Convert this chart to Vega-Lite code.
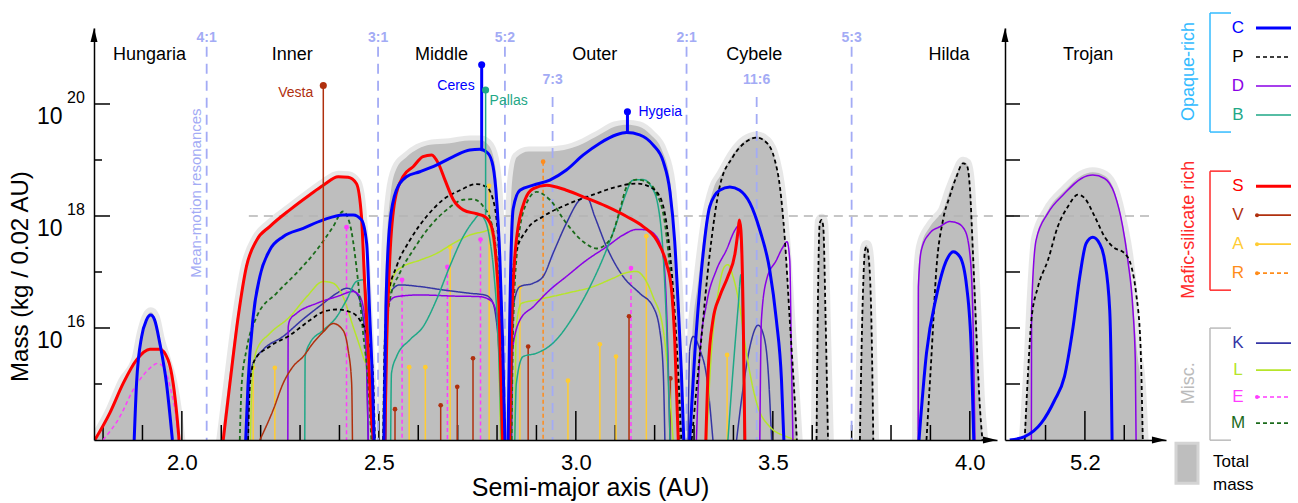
{
"$schema":"https://vega.github.io/schema/vega-lite/v6.json",
"padding":{"left":8,"top":12,"right":4,"bottom":4},
"config":{"font":"Liberation Sans","view":{"stroke":null},"axis":{"grid":false,"domainColor":"#000","tickColor":"#000","labelColor":"#000","titleColor":"#000"}},
"spacing":3,
"resolve":{"scale":{"x":"independent","y":"independent"}},
"datasets":{
"total":[
{"seg":"T1","a":1.777,"m":14},{"seg":"T1","a":1.817,"m":14.5},{"seg":"T1","a":1.851,"m":15.05},{"seg":"T1","a":1.885,"m":15.45},{"seg":"T1","a":1.898,"m":15.9},{"seg":"T1","a":1.91,"m":16.18},{"seg":"T1","a":1.921,"m":16.28},{"seg":"T1","a":1.931,"m":16.2},{"seg":"T1","a":1.944,"m":15.8},{"seg":"T1","a":1.961,"m":15.4},{"seg":"T1","a":1.975,"m":15.05},{"seg":"T1","a":1.988,"m":14.5},{"seg":"T1","a":1.996,"m":14},
{"seg":"T2","a":2.1,"m":14},{"seg":"T2","a":2.118,"m":15},{"seg":"T2","a":2.14,"m":16.2},{"seg":"T2","a":2.162,"m":17.1},{"seg":"T2","a":2.19,"m":17.6},{"seg":"T2","a":2.223,"m":17.85},{"seg":"T2","a":2.274,"m":18.13},{"seg":"T2","a":2.325,"m":18.4},{"seg":"T2","a":2.359,"m":18.57},{"seg":"T2","a":2.397,"m":18.72},{"seg":"T2","a":2.422,"m":18.71},{"seg":"T2","a":2.443,"m":18.6},{"seg":"T2","a":2.456,"m":18.1},{"seg":"T2","a":2.466,"m":17},{"seg":"T2","a":2.476,"m":15.6},{"seg":"T2","a":2.486,"m":14.5},{"seg":"T2","a":2.492,"m":14},
{"seg":"T3","a":2.508,"m":14},{"seg":"T3","a":2.513,"m":16},{"seg":"T3","a":2.52,"m":17.5},{"seg":"T3","a":2.53,"m":18.4},{"seg":"T3","a":2.545,"m":18.85},{"seg":"T3","a":2.57,"m":19.05},{"seg":"T3","a":2.6,"m":19.2},{"seg":"T3","a":2.63,"m":19.27},{"seg":"T3","a":2.68,"m":19.3},{"seg":"T3","a":2.73,"m":19.35},{"seg":"T3","a":2.76,"m":19.35},{"seg":"T3","a":2.78,"m":19.25},{"seg":"T3","a":2.795,"m":18.9},{"seg":"T3","a":2.805,"m":18},{"seg":"T3","a":2.813,"m":16.5},{"seg":"T3","a":2.82,"m":14},
{"seg":"T4","a":2.826,"m":14},{"seg":"T4","a":2.83,"m":16.5},{"seg":"T4","a":2.838,"m":18.6},{"seg":"T4","a":2.85,"m":19.05},{"seg":"T4","a":2.88,"m":19.15},{"seg":"T4","a":2.92,"m":19.15},{"seg":"T4","a":2.97,"m":19.18},{"seg":"T4","a":3.02,"m":19.3},{"seg":"T4","a":3.06,"m":19.45},{"seg":"T4","a":3.1,"m":19.6},{"seg":"T4","a":3.13,"m":19.63},{"seg":"T4","a":3.16,"m":19.6},{"seg":"T4","a":3.19,"m":19.45},{"seg":"T4","a":3.22,"m":19.15},{"seg":"T4","a":3.24,"m":18.6},{"seg":"T4","a":3.252,"m":17.6},{"seg":"T4","a":3.262,"m":16.3},{"seg":"T4","a":3.27,"m":15},{"seg":"T4","a":3.276,"m":14},
{"seg":"T5","a":3.287,"m":14},{"seg":"T5","a":3.295,"m":15.8},{"seg":"T5","a":3.31,"m":16.8},{"seg":"T5","a":3.33,"m":17.9},{"seg":"T5","a":3.35,"m":18.5},{"seg":"T5","a":3.37,"m":18.75},{"seg":"T5","a":3.4,"m":19.12},{"seg":"T5","a":3.43,"m":19.35},{"seg":"T5","a":3.46,"m":19.42},{"seg":"T5","a":3.485,"m":19.33},{"seg":"T5","a":3.505,"m":19.02},{"seg":"T5","a":3.518,"m":18.55},{"seg":"T5","a":3.53,"m":17.7},{"seg":"T5","a":3.543,"m":16.3},{"seg":"T5","a":3.556,"m":14.8},{"seg":"T5","a":3.563,"m":14},
{"seg":"T6","a":3.609,"m":14},{"seg":"T6","a":3.615,"m":16.8},{"seg":"T6","a":3.619,"m":17.9},{"seg":"T6","a":3.624,"m":17.95},{"seg":"T6","a":3.628,"m":17.85},{"seg":"T6","a":3.634,"m":16.2},{"seg":"T6","a":3.642,"m":14},
{"seg":"T7","a":3.719,"m":14},{"seg":"T7","a":3.728,"m":16.5},{"seg":"T7","a":3.734,"m":17.42},{"seg":"T7","a":3.738,"m":17.48},{"seg":"T7","a":3.744,"m":17.25},{"seg":"T7","a":3.751,"m":15.9},{"seg":"T7","a":3.757,"m":14},
{"seg":"T8","a":3.866,"m":14},{"seg":"T8","a":3.868,"m":16.8},{"seg":"T8","a":3.876,"m":17.45},{"seg":"T8","a":3.898,"m":17.8},{"seg":"T8","a":3.915,"m":17.95},{"seg":"T8","a":3.932,"m":18.1},{"seg":"T8","a":3.949,"m":18.45},{"seg":"T8","a":3.966,"m":18.75},{"seg":"T8","a":3.983,"m":18.97},{"seg":"T8","a":3.992,"m":18.94},{"seg":"T8","a":4.0,"m":18.6},{"seg":"T8","a":4.008,"m":17.6},{"seg":"T8","a":4.017,"m":16.2},{"seg":"T8","a":4.025,"m":14.8},{"seg":"T8","a":4.034,"m":14}
],
"curves":[
{"cls":"E","seg":"E1","a":1.8,"m":14},{"cls":"E","seg":"E1","a":1.843,"m":14.42},{"cls":"E","seg":"E1","a":1.876,"m":14.89},{"cls":"E","seg":"E1","a":1.91,"m":15.22},{"cls":"E","seg":"E1","a":1.94,"m":15.37},{"cls":"E","seg":"E1","a":1.957,"m":15.25},{"cls":"E","seg":"E1","a":1.974,"m":14.83},{"cls":"E","seg":"E1","a":1.985,"m":14.42},{"cls":"E","seg":"E1","a":1.991,"m":14},
{"cls":"K","seg":"K1","a":2.168,"m":14},{"cls":"K","seg":"K1","a":2.171,"m":15.01},{"cls":"K","seg":"K1","a":2.181,"m":15.37},{"cls":"K","seg":"K1","a":2.206,"m":15.61},{"cls":"K","seg":"K1","a":2.257,"m":15.85},{"cls":"K","seg":"K1","a":2.308,"m":16.16},{"cls":"K","seg":"K1","a":2.359,"m":16.44},{"cls":"K","seg":"K1","a":2.393,"m":16.62},{"cls":"K","seg":"K1","a":2.418,"m":16.71},{"cls":"K","seg":"K1","a":2.443,"m":16.62},{"cls":"K","seg":"K1","a":2.46,"m":16.2},{"cls":"K","seg":"K1","a":2.469,"m":15.31},{"cls":"K","seg":"K1","a":2.473,"m":14},
{"cls":"K","seg":"K2","a":2.518,"m":14},{"cls":"K","seg":"K2","a":2.52,"m":16.08},{"cls":"K","seg":"K2","a":2.528,"m":16.62},{"cls":"K","seg":"K2","a":2.553,"m":16.77},{"cls":"K","seg":"K2","a":2.604,"m":16.74},{"cls":"K","seg":"K2","a":2.663,"m":16.68},{"cls":"K","seg":"K2","a":2.731,"m":16.62},{"cls":"K","seg":"K2","a":2.769,"m":16.59},{"cls":"K","seg":"K2","a":2.786,"m":16.5},{"cls":"K","seg":"K2","a":2.797,"m":16.2},{"cls":"K","seg":"K2","a":2.807,"m":15.19},{"cls":"K","seg":"K2","a":2.811,"m":14},
{"cls":"K","seg":"K3","a":2.837,"m":14},{"cls":"K","seg":"K3","a":2.841,"m":16.38},{"cls":"K","seg":"K3","a":2.858,"m":16.74},{"cls":"K","seg":"K3","a":2.892,"m":16.8},{"cls":"K","seg":"K3","a":2.917,"m":16.92},{"cls":"K","seg":"K3","a":2.942,"m":17.33},{"cls":"K","seg":"K3","a":2.976,"m":17.87},{"cls":"K","seg":"K3","a":3.01,"m":18.29},{"cls":"K","seg":"K3","a":3.027,"m":18.35},{"cls":"K","seg":"K3","a":3.048,"m":17.99},{"cls":"K","seg":"K3","a":3.078,"m":17.45},{"cls":"K","seg":"K3","a":3.12,"m":16.92},{"cls":"K","seg":"K3","a":3.162,"m":16.62},{"cls":"K","seg":"K3","a":3.196,"m":16.38},{"cls":"K","seg":"K3","a":3.213,"m":15.96},{"cls":"K","seg":"K3","a":3.222,"m":15.19},{"cls":"K","seg":"K3","a":3.226,"m":14},
{"cls":"K","seg":"K4","a":3.285,"m":14},{"cls":"K","seg":"K4","a":3.289,"m":15.61},{"cls":"K","seg":"K4","a":3.298,"m":15.85},{"cls":"K","seg":"K4","a":3.315,"m":15.61},{"cls":"K","seg":"K4","a":3.332,"m":15.13},{"cls":"K","seg":"K4","a":3.348,"m":14},
{"cls":"K","seg":"K5","a":3.408,"m":14},{"cls":"K","seg":"K5","a":3.425,"m":14.95},{"cls":"K","seg":"K5","a":3.442,"m":15.67},{"cls":"K","seg":"K5","a":3.463,"m":16.05},{"cls":"K","seg":"K5","a":3.475,"m":15.91},{"cls":"K","seg":"K5","a":3.488,"m":15.25},{"cls":"K","seg":"K5","a":3.497,"m":14},
{"cls":"L","seg":"L1","a":2.174,"m":14},{"cls":"L","seg":"L1","a":2.178,"m":15.02},{"cls":"L","seg":"L1","a":2.19,"m":15.61},{"cls":"L","seg":"L1","a":2.223,"m":15.9},{"cls":"L","seg":"L1","a":2.274,"m":16.2},{"cls":"L","seg":"L1","a":2.317,"m":16.56},{"cls":"L","seg":"L1","a":2.359,"m":16.83},{"cls":"L","seg":"L1","a":2.384,"m":16.8},{"cls":"L","seg":"L1","a":2.409,"m":16.56},{"cls":"L","seg":"L1","a":2.435,"m":16.02},{"cls":"L","seg":"L1","a":2.46,"m":15.49},{"cls":"L","seg":"L1","a":2.481,"m":15.01},{"cls":"L","seg":"L1","a":2.49,"m":14},
{"cls":"L","seg":"L2","a":2.515,"m":14},{"cls":"L","seg":"L2","a":2.518,"m":15.75},{"cls":"L","seg":"L2","a":2.524,"m":16.44},{"cls":"L","seg":"L2","a":2.541,"m":16.98},{"cls":"L","seg":"L2","a":2.562,"m":17.1},{"cls":"L","seg":"L2","a":2.604,"m":17.21},{"cls":"L","seg":"L2","a":2.646,"m":17.33},{"cls":"L","seg":"L2","a":2.689,"m":17.51},{"cls":"L","seg":"L2","a":2.731,"m":17.66},{"cls":"L","seg":"L2","a":2.765,"m":17.72},{"cls":"L","seg":"L2","a":2.782,"m":17.75},{"cls":"L","seg":"L2","a":2.792,"m":17.45},{"cls":"L","seg":"L2","a":2.8,"m":16.68},{"cls":"L","seg":"L2","a":2.809,"m":14},
{"cls":"L","seg":"L3","a":2.845,"m":14},{"cls":"L","seg":"L3","a":2.849,"m":16.05},{"cls":"L","seg":"L3","a":2.862,"m":16.44},{"cls":"L","seg":"L3","a":2.9,"m":16.5},{"cls":"L","seg":"L3","a":2.976,"m":16.62},{"cls":"L","seg":"L3","a":3.044,"m":16.74},{"cls":"L","seg":"L3","a":3.095,"m":16.89},{"cls":"L","seg":"L3","a":3.129,"m":16.99},{"cls":"L","seg":"L3","a":3.154,"m":17.01},{"cls":"L","seg":"L3","a":3.171,"m":16.92},{"cls":"L","seg":"L3","a":3.196,"m":16.56},{"cls":"L","seg":"L3","a":3.222,"m":15.96},{"cls":"L","seg":"L3","a":3.234,"m":15.19},{"cls":"L","seg":"L3","a":3.247,"m":14},
{"cls":"L","seg":"L4","a":3.332,"m":14},{"cls":"L","seg":"L4","a":3.344,"m":15.55},{"cls":"L","seg":"L4","a":3.361,"m":16.62},{"cls":"L","seg":"L4","a":3.378,"m":17.1},{"cls":"L","seg":"L4","a":3.386,"m":17.13},{"cls":"L","seg":"L4","a":3.399,"m":16.92},{"cls":"L","seg":"L4","a":3.416,"m":16.38},{"cls":"L","seg":"L4","a":3.433,"m":15.55},{"cls":"L","seg":"L4","a":3.459,"m":14.66},{"cls":"L","seg":"L4","a":3.492,"m":14.24},{"cls":"L","seg":"L4","a":3.535,"m":14.06},{"cls":"L","seg":"L4","a":3.56,"m":14},
{"cls":"D","seg":"D1","a":2.269,"m":14},{"cls":"D","seg":"D1","a":2.27,"m":16.02},{"cls":"D","seg":"D1","a":2.274,"m":16.14},{"cls":"D","seg":"D1","a":2.291,"m":16.26},{"cls":"D","seg":"D1","a":2.342,"m":16.44},{"cls":"D","seg":"D1","a":2.393,"m":16.56},{"cls":"D","seg":"D1","a":2.435,"m":16.65},{"cls":"D","seg":"D1","a":2.452,"m":16.56},{"cls":"D","seg":"D1","a":2.464,"m":16.2},{"cls":"D","seg":"D1","a":2.473,"m":14},
{"cls":"D","seg":"D2","a":2.515,"m":14},{"cls":"D","seg":"D2","a":2.518,"m":16.08},{"cls":"D","seg":"D2","a":2.524,"m":16.44},{"cls":"D","seg":"D2","a":2.545,"m":16.56},{"cls":"D","seg":"D2","a":2.604,"m":16.59},{"cls":"D","seg":"D2","a":2.689,"m":16.57},{"cls":"D","seg":"D2","a":2.756,"m":16.56},{"cls":"D","seg":"D2","a":2.782,"m":16.5},{"cls":"D","seg":"D2","a":2.794,"m":16.38},{"cls":"D","seg":"D2","a":2.805,"m":15.96},{"cls":"D","seg":"D2","a":2.812,"m":14},
{"cls":"D","seg":"D3","a":2.832,"m":14},{"cls":"D","seg":"D3","a":2.837,"m":15.49},{"cls":"D","seg":"D3","a":2.858,"m":16.14},{"cls":"D","seg":"D3","a":2.892,"m":16.38},{"cls":"D","seg":"D3","a":2.934,"m":16.68},{"cls":"D","seg":"D3","a":2.976,"m":16.92},{"cls":"D","seg":"D3","a":3.027,"m":17.21},{"cls":"D","seg":"D3","a":3.078,"m":17.45},{"cls":"D","seg":"D3","a":3.12,"m":17.66},{"cls":"D","seg":"D3","a":3.154,"m":17.76},{"cls":"D","seg":"D3","a":3.18,"m":17.75},{"cls":"D","seg":"D3","a":3.205,"m":17.63},{"cls":"D","seg":"D3","a":3.222,"m":17.27},{"cls":"D","seg":"D3","a":3.23,"m":16.38},{"cls":"D","seg":"D3","a":3.239,"m":14},
{"cls":"D","seg":"D4","a":3.306,"m":14},{"cls":"D","seg":"D4","a":3.315,"m":15.55},{"cls":"D","seg":"D4","a":3.332,"m":16.44},{"cls":"D","seg":"D4","a":3.357,"m":17.04},{"cls":"D","seg":"D4","a":3.382,"m":17.39},{"cls":"D","seg":"D4","a":3.404,"m":17.75},{"cls":"D","seg":"D4","a":3.412,"m":17.82},{"cls":"D","seg":"D4","a":3.421,"m":17.33},{"cls":"D","seg":"D4","a":3.426,"m":15.55},{"cls":"D","seg":"D4","a":3.429,"m":14},
{"cls":"D","seg":"D5","a":3.467,"m":14},{"cls":"D","seg":"D5","a":3.471,"m":16.14},{"cls":"D","seg":"D5","a":3.484,"m":16.86},{"cls":"D","seg":"D5","a":3.509,"m":17.21},{"cls":"D","seg":"D5","a":3.526,"m":17.45},{"cls":"D","seg":"D5","a":3.536,"m":17.54},{"cls":"D","seg":"D5","a":3.543,"m":17.21},{"cls":"D","seg":"D5","a":3.547,"m":15.55},{"cls":"D","seg":"D5","a":3.551,"m":14},
{"cls":"D","seg":"D6","a":3.869,"m":14},{"cls":"D","seg":"D6","a":3.8695,"m":16.74},{"cls":"D","seg":"D6","a":3.877,"m":17.39},{"cls":"D","seg":"D6","a":3.898,"m":17.69},{"cls":"D","seg":"D6","a":3.924,"m":17.81},{"cls":"D","seg":"D6","a":3.949,"m":17.9},{"cls":"D","seg":"D6","a":3.966,"m":17.88},{"cls":"D","seg":"D6","a":3.987,"m":17.75},{"cls":"D","seg":"D6","a":4.0,"m":17.33},{"cls":"D","seg":"D6","a":4.008,"m":16.14},{"cls":"D","seg":"D6","a":4.013,"m":14},
{"cls":"B","seg":"B1","a":2.312,"m":14},{"cls":"B","seg":"B1","a":2.313,"m":15.49},{"cls":"B","seg":"B1","a":2.325,"m":15.73},{"cls":"B","seg":"B1","a":2.359,"m":15.96},{"cls":"B","seg":"B1","a":2.393,"m":16.2},{"cls":"B","seg":"B1","a":2.418,"m":16.5},{"cls":"B","seg":"B1","a":2.443,"m":16.83},{"cls":"B","seg":"B1","a":2.46,"m":16.86},{"cls":"B","seg":"B1","a":2.469,"m":16.5},{"cls":"B","seg":"B1","a":2.477,"m":15.01},{"cls":"B","seg":"B1","a":2.484,"m":14},
{"cls":"B","seg":"B2","a":2.53,"m":14},{"cls":"B","seg":"B2","a":2.532,"m":15.19},{"cls":"B","seg":"B2","a":2.545,"m":15.49},{"cls":"B","seg":"B2","a":2.579,"m":15.79},{"cls":"B","seg":"B2","a":2.612,"m":16.02},{"cls":"B","seg":"B2","a":2.646,"m":16.5},{"cls":"B","seg":"B2","a":2.68,"m":17.1},{"cls":"B","seg":"B2","a":2.714,"m":17.63},{"cls":"B","seg":"B2","a":2.739,"m":17.9},{"cls":"B","seg":"B2","a":2.756,"m":18.02},{"cls":"B","seg":"B2","a":2.769,"m":17.93},{"cls":"B","seg":"B2","a":2.782,"m":17.57},{"cls":"B","seg":"B2","a":2.792,"m":16.98},{"cls":"B","seg":"B2","a":2.803,"m":15.79},{"cls":"B","seg":"B2","a":2.811,"m":14},
{"cls":"B","seg":"B3","a":2.845,"m":14},{"cls":"B","seg":"B3","a":2.849,"m":15.01},{"cls":"B","seg":"B3","a":2.866,"m":15.49},{"cls":"B","seg":"B3","a":2.9,"m":15.55},{"cls":"B","seg":"B3","a":2.942,"m":15.73},{"cls":"B","seg":"B3","a":2.993,"m":16.2},{"cls":"B","seg":"B3","a":3.036,"m":16.74},{"cls":"B","seg":"B3","a":3.078,"m":17.4},{"cls":"B","seg":"B3","a":3.103,"m":17.87},{"cls":"B","seg":"B3","a":3.124,"m":18.34},{"cls":"B","seg":"B3","a":3.145,"m":18.64},{"cls":"B","seg":"B3","a":3.171,"m":18.65},{"cls":"B","seg":"B3","a":3.192,"m":18.52},{"cls":"B","seg":"B3","a":3.209,"m":18.17},{"cls":"B","seg":"B3","a":3.222,"m":17.27},{"cls":"B","seg":"B3","a":3.23,"m":16.08},{"cls":"B","seg":"B3","a":3.239,"m":14},
{"cls":"B","seg":"B4","a":3.386,"m":14},{"cls":"B","seg":"B4","a":3.399,"m":15.25},{"cls":"B","seg":"B4","a":3.412,"m":16.38},{"cls":"B","seg":"B4","a":3.419,"m":16.95},{"cls":"B","seg":"B4","a":3.423,"m":16.1},{"cls":"B","seg":"B4","a":3.427,"m":14},
{"cls":"V","seg":"V1","a":2.198,"m":14},{"cls":"V","seg":"V1","a":2.232,"m":14.54},{"cls":"V","seg":"V1","a":2.257,"m":15.01},{"cls":"V","seg":"V1","a":2.282,"m":15.31},{"cls":"V","seg":"V1","a":2.308,"m":15.49},{"cls":"V","seg":"V1","a":2.333,"m":15.73},{"cls":"V","seg":"V1","a":2.359,"m":15.93},{"cls":"V","seg":"V1","a":2.384,"m":16.08},{"cls":"V","seg":"V1","a":2.409,"m":15.96},{"cls":"V","seg":"V1","a":2.422,"m":15.61},{"cls":"V","seg":"V1","a":2.431,"m":15.01},{"cls":"V","seg":"V1","a":2.433,"m":14},
{"cls":"M","seg":"M1","a":2.147,"m":14},{"cls":"M","seg":"M1","a":2.152,"m":15.01},{"cls":"M","seg":"M1","a":2.164,"m":15.61},{"cls":"M","seg":"M1","a":2.19,"m":16.2},{"cls":"M","seg":"M1","a":2.24,"m":16.62},{"cls":"M","seg":"M1","a":2.291,"m":16.98},{"cls":"M","seg":"M1","a":2.342,"m":17.39},{"cls":"M","seg":"M1","a":2.384,"m":17.81},{"cls":"M","seg":"M1","a":2.409,"m":18.08},{"cls":"M","seg":"M1","a":2.426,"m":17.87},{"cls":"M","seg":"M1","a":2.443,"m":17.1},{"cls":"M","seg":"M1","a":2.46,"m":15.91},{"cls":"M","seg":"M1","a":2.473,"m":15.01},{"cls":"M","seg":"M1","a":2.481,"m":14},
{"cls":"M","seg":"M2","a":2.513,"m":14},{"cls":"M","seg":"M2","a":2.518,"m":15.75},{"cls":"M","seg":"M2","a":2.528,"m":16.5},{"cls":"M","seg":"M2","a":2.553,"m":16.98},{"cls":"M","seg":"M2","a":2.587,"m":17.39},{"cls":"M","seg":"M2","a":2.629,"m":17.81},{"cls":"M","seg":"M2","a":2.672,"m":18.11},{"cls":"M","seg":"M2","a":2.714,"m":18.29},{"cls":"M","seg":"M2","a":2.739,"m":18.3},{"cls":"M","seg":"M2","a":2.765,"m":18.17},{"cls":"M","seg":"M2","a":2.786,"m":17.87},{"cls":"M","seg":"M2","a":2.799,"m":17.27},{"cls":"M","seg":"M2","a":2.809,"m":16.08},{"cls":"M","seg":"M2","a":2.816,"m":14},
{"cls":"M","seg":"M3","a":2.837,"m":14},{"cls":"M","seg":"M3","a":2.841,"m":16.05},{"cls":"M","seg":"M3","a":2.854,"m":17.57},{"cls":"M","seg":"M3","a":2.875,"m":18.23},{"cls":"M","seg":"M3","a":2.9,"m":18.43},{"cls":"M","seg":"M3","a":2.934,"m":18.29},{"cls":"M","seg":"M3","a":2.976,"m":17.87},{"cls":"M","seg":"M3","a":3.019,"m":17.54},{"cls":"M","seg":"M3","a":3.053,"m":17.42},{"cls":"M","seg":"M3","a":3.086,"m":17.57},{"cls":"M","seg":"M3","a":3.112,"m":18.11},{"cls":"M","seg":"M3","a":3.129,"m":18.52},{"cls":"M","seg":"M3","a":3.154,"m":18.65},{"cls":"M","seg":"M3","a":3.18,"m":18.61},{"cls":"M","seg":"M3","a":3.205,"m":18.4},{"cls":"M","seg":"M3","a":3.226,"m":17.87},{"cls":"M","seg":"M3","a":3.243,"m":16.68},{"cls":"M","seg":"M3","a":3.256,"m":15.19},{"cls":"M","seg":"M3","a":3.264,"m":14},
{"cls":"P","seg":"P1","a":2.168,"m":14},{"cls":"P","seg":"P1","a":2.173,"m":15.01},{"cls":"P","seg":"P1","a":2.185,"m":15.43},{"cls":"P","seg":"P1","a":2.223,"m":15.67},{"cls":"P","seg":"P1","a":2.274,"m":15.87},{"cls":"P","seg":"P1","a":2.325,"m":16.14},{"cls":"P","seg":"P1","a":2.359,"m":16.29},{"cls":"P","seg":"P1","a":2.393,"m":16.33},{"cls":"P","seg":"P1","a":2.426,"m":16.29},{"cls":"P","seg":"P1","a":2.452,"m":16.14},{"cls":"P","seg":"P1","a":2.473,"m":15.79},{"cls":"P","seg":"P1","a":2.484,"m":15.31},{"cls":"P","seg":"P1","a":2.49,"m":14},
{"cls":"P","seg":"P2","a":2.511,"m":14},{"cls":"P","seg":"P2","a":2.515,"m":15.75},{"cls":"P","seg":"P2","a":2.524,"m":16.58},{"cls":"P","seg":"P2","a":2.545,"m":17.1},{"cls":"P","seg":"P2","a":2.579,"m":17.57},{"cls":"P","seg":"P2","a":2.621,"m":17.99},{"cls":"P","seg":"P2","a":2.663,"m":18.29},{"cls":"P","seg":"P2","a":2.706,"m":18.46},{"cls":"P","seg":"P2","a":2.748,"m":18.57},{"cls":"P","seg":"P2","a":2.773,"m":18.52},{"cls":"P","seg":"P2","a":2.79,"m":18.29},{"cls":"P","seg":"P2","a":2.803,"m":17.57},{"cls":"P","seg":"P2","a":2.811,"m":16.38},{"cls":"P","seg":"P2","a":2.82,"m":14},
{"cls":"P","seg":"P3","a":2.831,"m":14},{"cls":"P","seg":"P3","a":2.834,"m":15.79},{"cls":"P","seg":"P3","a":2.845,"m":17.27},{"cls":"P","seg":"P3","a":2.875,"m":17.75},{"cls":"P","seg":"P3","a":2.917,"m":17.99},{"cls":"P","seg":"P3","a":2.976,"m":18.2},{"cls":"P","seg":"P3","a":3.044,"m":18.38},{"cls":"P","seg":"P3","a":3.103,"m":18.52},{"cls":"P","seg":"P3","a":3.154,"m":18.58},{"cls":"P","seg":"P3","a":3.188,"m":18.52},{"cls":"P","seg":"P3","a":3.213,"m":18.35},{"cls":"P","seg":"P3","a":3.23,"m":17.87},{"cls":"P","seg":"P3","a":3.247,"m":16.68},{"cls":"P","seg":"P3","a":3.26,"m":15.19},{"cls":"P","seg":"P3","a":3.268,"m":14},
{"cls":"P","seg":"P4","a":3.294,"m":14},{"cls":"P","seg":"P4","a":3.315,"m":15.55},{"cls":"P","seg":"P4","a":3.34,"m":17.33},{"cls":"P","seg":"P4","a":3.365,"m":18.52},{"cls":"P","seg":"P4","a":3.399,"m":19.06},{"cls":"P","seg":"P4","a":3.433,"m":19.33},{"cls":"P","seg":"P4","a":3.459,"m":19.4},{"cls":"P","seg":"P4","a":3.484,"m":19.31},{"cls":"P","seg":"P4","a":3.505,"m":19.0},{"cls":"P","seg":"P4","a":3.518,"m":18.52},{"cls":"P","seg":"P4","a":3.53,"m":17.63},{"cls":"P","seg":"P4","a":3.543,"m":16.14},{"cls":"P","seg":"P4","a":3.556,"m":14.66},{"cls":"P","seg":"P4","a":3.561,"m":14},
{"cls":"P","seg":"P5","a":3.611,"m":14},{"cls":"P","seg":"P5","a":3.615,"m":16.74},{"cls":"P","seg":"P5","a":3.619,"m":17.87},{"cls":"P","seg":"P5","a":3.624,"m":17.93},{"cls":"P","seg":"P5","a":3.628,"m":17.81},{"cls":"P","seg":"P5","a":3.634,"m":16.14},{"cls":"P","seg":"P5","a":3.64,"m":14},
{"cls":"P","seg":"P6","a":3.721,"m":14},{"cls":"P","seg":"P6","a":3.728,"m":16.44},{"cls":"P","seg":"P6","a":3.734,"m":17.39},{"cls":"P","seg":"P6","a":3.738,"m":17.45},{"cls":"P","seg":"P6","a":3.744,"m":17.21},{"cls":"P","seg":"P6","a":3.751,"m":15.85},{"cls":"P","seg":"P6","a":3.755,"m":14},
{"cls":"P","seg":"P7","a":3.89,"m":14},{"cls":"P","seg":"P7","a":3.903,"m":15.55},{"cls":"P","seg":"P7","a":3.915,"m":17.04},{"cls":"P","seg":"P7","a":3.932,"m":17.93},{"cls":"P","seg":"P7","a":3.949,"m":18.35},{"cls":"P","seg":"P7","a":3.966,"m":18.7},{"cls":"P","seg":"P7","a":3.983,"m":18.94},{"cls":"P","seg":"P7","a":3.992,"m":18.91},{"cls":"P","seg":"P7","a":4.0,"m":18.52},{"cls":"P","seg":"P7","a":4.008,"m":17.33},{"cls":"P","seg":"P7","a":4.017,"m":15.85},{"cls":"P","seg":"P7","a":4.025,"m":14.66},{"cls":"P","seg":"P7","a":4.032,"m":14},
{"cls":"S","seg":"S1","a":1.779,"m":14},{"cls":"S","seg":"S1","a":1.817,"m":14.48},{"cls":"S","seg":"S1","a":1.851,"m":15.01},{"cls":"S","seg":"S1","a":1.885,"m":15.43},{"cls":"S","seg":"S1","a":1.919,"m":15.62},{"cls":"S","seg":"S1","a":1.944,"m":15.62},{"cls":"S","seg":"S1","a":1.965,"m":15.43},{"cls":"S","seg":"S1","a":1.978,"m":15.01},{"cls":"S","seg":"S1","a":1.988,"m":14.4},{"cls":"S","seg":"S1","a":1.993,"m":14},
{"cls":"S","seg":"S2","a":2.105,"m":14},{"cls":"S","seg":"S2","a":2.122,"m":15.01},{"cls":"S","seg":"S2","a":2.143,"m":16.2},{"cls":"S","seg":"S2","a":2.164,"m":17.1},{"cls":"S","seg":"S2","a":2.19,"m":17.57},{"cls":"S","seg":"S2","a":2.223,"m":17.81},{"cls":"S","seg":"S2","a":2.274,"m":18.11},{"cls":"S","seg":"S2","a":2.325,"m":18.38},{"cls":"S","seg":"S2","a":2.359,"m":18.55},{"cls":"S","seg":"S2","a":2.397,"m":18.7},{"cls":"S","seg":"S2","a":2.422,"m":18.69},{"cls":"S","seg":"S2","a":2.443,"m":18.58},{"cls":"S","seg":"S2","a":2.456,"m":17.98},{"cls":"S","seg":"S2","a":2.464,"m":16.8},{"cls":"S","seg":"S2","a":2.473,"m":15.61},{"cls":"S","seg":"S2","a":2.481,"m":14.42},{"cls":"S","seg":"S2","a":2.486,"m":14},
{"cls":"S","seg":"S3","a":2.515,"m":14},{"cls":"S","seg":"S3","a":2.52,"m":15.75},{"cls":"S","seg":"S3","a":2.528,"m":17.27},{"cls":"S","seg":"S3","a":2.541,"m":18.29},{"cls":"S","seg":"S3","a":2.562,"m":18.71},{"cls":"S","seg":"S3","a":2.587,"m":18.88},{"cls":"S","seg":"S3","a":2.612,"m":19.06},{"cls":"S","seg":"S3","a":2.634,"m":19.09},{"cls":"S","seg":"S3","a":2.651,"m":18.94},{"cls":"S","seg":"S3","a":2.668,"m":18.64},{"cls":"S","seg":"S3","a":2.689,"m":18.29},{"cls":"S","seg":"S3","a":2.714,"m":18.11},{"cls":"S","seg":"S3","a":2.748,"m":18.04},{"cls":"S","seg":"S3","a":2.769,"m":17.99},{"cls":"S","seg":"S3","a":2.786,"m":17.81},{"cls":"S","seg":"S3","a":2.797,"m":17.27},{"cls":"S","seg":"S3","a":2.805,"m":16.38},{"cls":"S","seg":"S3","a":2.814,"m":14},
{"cls":"S","seg":"S4","a":2.832,"m":14},{"cls":"S","seg":"S4","a":2.837,"m":16.05},{"cls":"S","seg":"S4","a":2.849,"m":17.57},{"cls":"S","seg":"S4","a":2.871,"m":18.29},{"cls":"S","seg":"S4","a":2.892,"m":18.49},{"cls":"S","seg":"S4","a":2.926,"m":18.55},{"cls":"S","seg":"S4","a":2.976,"m":18.46},{"cls":"S","seg":"S4","a":3.027,"m":18.32},{"cls":"S","seg":"S4","a":3.078,"m":18.17},{"cls":"S","seg":"S4","a":3.129,"m":17.99},{"cls":"S","seg":"S4","a":3.171,"m":17.81},{"cls":"S","seg":"S4","a":3.205,"m":17.57},{"cls":"S","seg":"S4","a":3.23,"m":17.15},{"cls":"S","seg":"S4","a":3.243,"m":16.68},{"cls":"S","seg":"S4","a":3.251,"m":15.79},{"cls":"S","seg":"S4","a":3.26,"m":14},
{"cls":"S","seg":"S5","a":3.33,"m":14},{"cls":"S","seg":"S5","a":3.336,"m":15.25},{"cls":"S","seg":"S5","a":3.348,"m":16.14},{"cls":"S","seg":"S5","a":3.365,"m":16.56},{"cls":"S","seg":"S5","a":3.386,"m":16.92},{"cls":"S","seg":"S5","a":3.404,"m":17.33},{"cls":"S","seg":"S5","a":3.412,"m":17.75},{"cls":"S","seg":"S5","a":3.415,"m":17.93},{"cls":"S","seg":"S5","a":3.419,"m":17.75},{"cls":"S","seg":"S5","a":3.425,"m":16.14},{"cls":"S","seg":"S5","a":3.429,"m":14},
{"cls":"C","seg":"C1","a":1.879,"m":14},{"cls":"C","seg":"C1","a":1.885,"m":15.01},{"cls":"C","seg":"C1","a":1.898,"m":15.85},{"cls":"C","seg":"C1","a":1.91,"m":16.14},{"cls":"C","seg":"C1","a":1.921,"m":16.23},{"cls":"C","seg":"C1","a":1.931,"m":16.14},{"cls":"C","seg":"C1","a":1.944,"m":15.73},{"cls":"C","seg":"C1","a":1.961,"m":15.01},{"cls":"C","seg":"C1","a":1.976,"m":14},
{"cls":"C","seg":"C2","a":2.162,"m":14},{"cls":"C","seg":"C2","a":2.168,"m":15.01},{"cls":"C","seg":"C2","a":2.181,"m":16.2},{"cls":"C","seg":"C2","a":2.198,"m":16.92},{"cls":"C","seg":"C2","a":2.223,"m":17.39},{"cls":"C","seg":"C2","a":2.257,"m":17.63},{"cls":"C","seg":"C2","a":2.308,"m":17.78},{"cls":"C","seg":"C2","a":2.359,"m":17.93},{"cls":"C","seg":"C2","a":2.409,"m":18.02},{"cls":"C","seg":"C2","a":2.435,"m":18.02},{"cls":"C","seg":"C2","a":2.456,"m":17.93},{"cls":"C","seg":"C2","a":2.469,"m":17.51},{"cls":"C","seg":"C2","a":2.477,"m":16.2},{"cls":"C","seg":"C2","a":2.484,"m":15.01},{"cls":"C","seg":"C2","a":2.488,"m":14},
{"cls":"C","seg":"C3","a":2.513,"m":14},{"cls":"C","seg":"C3","a":2.518,"m":16.38},{"cls":"C","seg":"C3","a":2.528,"m":17.87},{"cls":"C","seg":"C3","a":2.545,"m":18.47},{"cls":"C","seg":"C3","a":2.57,"m":18.7},{"cls":"C","seg":"C3","a":2.604,"m":18.79},{"cls":"C","seg":"C3","a":2.646,"m":18.91},{"cls":"C","seg":"C3","a":2.689,"m":19.06},{"cls":"C","seg":"C3","a":2.731,"m":19.18},{"cls":"C","seg":"C3","a":2.756,"m":19.19},{"cls":"C","seg":"C3","a":2.777,"m":19.12},{"cls":"C","seg":"C3","a":2.79,"m":18.88},{"cls":"C","seg":"C3","a":2.799,"m":18.29},{"cls":"C","seg":"C3","a":2.807,"m":17.27},{"cls":"C","seg":"C3","a":2.814,"m":15.79},{"cls":"C","seg":"C3","a":2.82,"m":14},
{"cls":"C","seg":"C4","a":2.828,"m":14},{"cls":"C","seg":"C4","a":2.832,"m":16.05},{"cls":"C","seg":"C4","a":2.841,"m":18.13},{"cls":"C","seg":"C4","a":2.858,"m":18.46},{"cls":"C","seg":"C4","a":2.892,"m":18.55},{"cls":"C","seg":"C4","a":2.934,"m":18.64},{"cls":"C","seg":"C4","a":2.976,"m":18.82},{"cls":"C","seg":"C4","a":3.019,"m":19.09},{"cls":"C","seg":"C4","a":3.061,"m":19.3},{"cls":"C","seg":"C4","a":3.103,"m":19.45},{"cls":"C","seg":"C4","a":3.129,"m":19.49},{"cls":"C","seg":"C4","a":3.162,"m":19.45},{"cls":"C","seg":"C4","a":3.196,"m":19.27},{"cls":"C","seg":"C4","a":3.222,"m":18.97},{"cls":"C","seg":"C4","a":3.239,"m":18.43},{"cls":"C","seg":"C4","a":3.251,"m":17.54},{"cls":"C","seg":"C4","a":3.26,"m":16.38},{"cls":"C","seg":"C4","a":3.268,"m":15.19},{"cls":"C","seg":"C4","a":3.274,"m":14},
{"cls":"C","seg":"C5","a":3.289,"m":14},{"cls":"C","seg":"C5","a":3.302,"m":15.55},{"cls":"C","seg":"C5","a":3.319,"m":17.04},{"cls":"C","seg":"C5","a":3.34,"m":18.17},{"cls":"C","seg":"C5","a":3.365,"m":18.46},{"cls":"C","seg":"C5","a":3.391,"m":18.52},{"cls":"C","seg":"C5","a":3.416,"m":18.46},{"cls":"C","seg":"C5","a":3.442,"m":18.23},{"cls":"C","seg":"C5","a":3.467,"m":17.75},{"cls":"C","seg":"C5","a":3.492,"m":17.04},{"cls":"C","seg":"C5","a":3.509,"m":16.14},{"cls":"C","seg":"C5","a":3.522,"m":15.07},{"cls":"C","seg":"C5","a":3.528,"m":14},
{"cls":"C","seg":"C6","a":3.871,"m":14},{"cls":"C","seg":"C6","a":3.89,"m":15.55},{"cls":"C","seg":"C6","a":3.915,"m":16.56},{"cls":"C","seg":"C6","a":3.941,"m":17.21},{"cls":"C","seg":"C6","a":3.958,"m":17.36},{"cls":"C","seg":"C6","a":3.975,"m":17.27},{"cls":"C","seg":"C6","a":3.992,"m":16.74},{"cls":"C","seg":"C6","a":4.004,"m":15.55},{"cls":"C","seg":"C6","a":4.01,"m":14}
],
"trojan":[
{"cls":"D","seg":"TD","a":5.064,"m":14},{"cls":"D","seg":"TD","a":5.0645,"m":16.32},{"cls":"D","seg":"TD","a":5.076,"m":17.57},{"cls":"D","seg":"TD","a":5.106,"m":18.05},{"cls":"D","seg":"TD","a":5.148,"m":18.4},{"cls":"D","seg":"TD","a":5.191,"m":18.67},{"cls":"D","seg":"TD","a":5.22,"m":18.73},{"cls":"D","seg":"TD","a":5.25,"m":18.67},{"cls":"D","seg":"TD","a":5.275,"m":18.4},{"cls":"D","seg":"TD","a":5.296,"m":17.81},{"cls":"D","seg":"TD","a":5.309,"m":17.21},{"cls":"D","seg":"TD","a":5.322,"m":16.32},{"cls":"D","seg":"TD","a":5.328,"m":15.43},{"cls":"D","seg":"TD","a":5.33,"m":14},
{"cls":"P","seg":"TP","a":5.047,"m":14},{"cls":"P","seg":"TP","a":5.055,"m":15.13},{"cls":"P","seg":"TP","a":5.064,"m":16.14},{"cls":"P","seg":"TP","a":5.081,"m":16.74},{"cls":"P","seg":"TP","a":5.106,"m":17.21},{"cls":"P","seg":"TP","a":5.131,"m":17.81},{"cls":"P","seg":"TP","a":5.157,"m":18.17},{"cls":"P","seg":"TP","a":5.182,"m":18.38},{"cls":"P","seg":"TP","a":5.199,"m":18.32},{"cls":"P","seg":"TP","a":5.225,"m":17.99},{"cls":"P","seg":"TP","a":5.25,"m":17.63},{"cls":"P","seg":"TP","a":5.271,"m":17.45},{"cls":"P","seg":"TP","a":5.301,"m":17.33},{"cls":"P","seg":"TP","a":5.318,"m":17.1},{"cls":"P","seg":"TP","a":5.33,"m":16.62},{"cls":"P","seg":"TP","a":5.341,"m":15.73},{"cls":"P","seg":"TP","a":5.347,"m":14},
{"cls":"C","seg":"TC","a":5.009,"m":14},{"cls":"C","seg":"TC","a":5.047,"m":14.06},{"cls":"C","seg":"TC","a":5.089,"m":14.3},{"cls":"C","seg":"TC","a":5.123,"m":14.71},{"cls":"C","seg":"TC","a":5.148,"m":15.13},{"cls":"C","seg":"TC","a":5.17,"m":16.02},{"cls":"C","seg":"TC","a":5.187,"m":16.92},{"cls":"C","seg":"TC","a":5.203,"m":17.51},{"cls":"C","seg":"TC","a":5.22,"m":17.62},{"cls":"C","seg":"TC","a":5.237,"m":17.51},{"cls":"C","seg":"TC","a":5.25,"m":17.21},{"cls":"C","seg":"TC","a":5.263,"m":16.32},{"cls":"C","seg":"TC","a":5.267,"m":15.13},{"cls":"C","seg":"TC","a":5.269,"m":14}
],
"trojanTotal":[
{"seg":"TT","a":5.045,"m":14},{"seg":"TT","a":5.058,"m":15.5},{"seg":"TT","a":5.064,"m":16.4},{"seg":"TT","a":5.076,"m":17.6},{"seg":"TT","a":5.106,"m":18.1},{"seg":"TT","a":5.148,"m":18.45},{"seg":"TT","a":5.191,"m":18.72},{"seg":"TT","a":5.22,"m":18.78},{"seg":"TT","a":5.25,"m":18.72},{"seg":"TT","a":5.275,"m":18.45},{"seg":"TT","a":5.296,"m":17.85},{"seg":"TT","a":5.31,"m":17.3},{"seg":"TT","a":5.322,"m":16.5},{"seg":"TT","a":5.332,"m":15.6},{"seg":"TT","a":5.342,"m":15},{"seg":"TT","a":5.349,"m":14}
],
"stems":[
{"cls":"A","a":2.181,"top":15.29},{"cls":"A","a":2.236,"top":15.29},{"cls":"A","a":2.577,"top":15.3},{"cls":"A","a":2.618,"top":15.3},{"cls":"A","a":2.681,"top":17.44},{"cls":"A","a":2.78,"top":18.54},{"cls":"A","a":2.858,"top":16.73},{"cls":"A","a":2.98,"top":15.06},{"cls":"A","a":3.061,"top":15.71},{"cls":"A","a":3.102,"top":15.49},{"cls":"A","a":3.179,"top":17.64},{"cls":"A","a":3.384,"top":15.52},
{"cls":"V","a":2.541,"top":14.55},{"cls":"V","a":2.657,"top":14.62},{"cls":"V","a":2.699,"top":14.95},{"cls":"V","a":2.739,"top":15.46},{"cls":"V","a":2.879,"top":15.67},{"cls":"V","a":3.135,"top":16.21},{"cls":"V","a":3.24,"top":15.1},
{"cls":"E","a":2.418,"top":17.8},{"cls":"E","a":2.559,"top":16.86},{"cls":"E","a":2.674,"top":17.09},{"cls":"E","a":2.758,"top":17.58},{"cls":"E","a":3.14,"top":17.07},
{"cls":"R","a":2.917,"top":18.97}
],
"named":[
{"name":"Vesta","cls":"V","a":2.359,"base":15.93,"top":20.33},
{"name":"Ceres","cls":"C","a":2.761,"base":19.19,"top":20.7},
{"name":"Pallas","cls":"B","a":2.771,"base":18.02,"top":20.25},
{"name":"Hygeia","cls":"C","a":3.131,"base":19.49,"top":19.86}
],
"res":[
{"label":"4:1","a":2.063,"tier":"upper"},{"label":"3:1","a":2.498,"tier":"upper"},{"label":"5:2","a":2.82,"tier":"upper"},{"label":"7:3","a":2.941,"tier":"lower"},{"label":"2:1","a":3.281,"tier":"upper"},{"label":"11:6","a":3.459,"tier":"lower"},{"label":"5:3","a":3.7,"tier":"upper"}
],
"regions":[
{"name":"Hungaria","a":1.918,"panel":"main"},{"name":"Inner","a":2.28,"panel":"main"},{"name":"Middle","a":2.659,"panel":"main"},{"name":"Outer","a":3.048,"panel":"main"},{"name":"Cybele","a":3.453,"panel":"main"},{"name":"Hilda","a":3.947,"panel":"main"},{"name":"Trojan","a":5.208,"panel":"trojan"}
],
"xticks":[
{"t":1.8,"major":false},{"t":1.9,"major":false},{"t":2,"major":true},{"t":2.1,"major":false},{"t":2.2,"major":false},{"t":2.3,"major":false},{"t":2.4,"major":false},{"t":2.5,"major":true},{"t":2.6,"major":false},{"t":2.7,"major":false},{"t":2.8,"major":false},{"t":2.9,"major":false},{"t":3,"major":true},{"t":3.1,"major":false},{"t":3.2,"major":false},{"t":3.3,"major":false},{"t":3.4,"major":false},{"t":3.5,"major":true},{"t":3.6,"major":false},{"t":3.7,"major":false},{"t":3.8,"major":false},{"t":3.9,"major":false},{"t":4,"major":true}
],
"tticks":[{"t":5.1,"major":false},{"t":5.2,"major":true},{"t":5.3,"major":false}],
"yticks":[{"v":15,"major":false},{"v":16,"major":true},{"v":17,"major":false},{"v":18,"major":true},{"v":19,"major":false},{"v":20,"major":true}],
"legend":[
{"cls":"C","grp":"Opaque-rich","slot":0},{"cls":"P","grp":"Opaque-rich","slot":1},{"cls":"D","grp":"Opaque-rich","slot":2},{"cls":"B","grp":"Opaque-rich","slot":3},
{"cls":"S","grp":"Mafic-silicate rich","slot":5.45},{"cls":"V","grp":"Mafic-silicate rich","slot":6.45},{"cls":"A","grp":"Mafic-silicate rich","slot":7.45},{"cls":"R","grp":"Mafic-silicate rich","slot":8.45},
{"cls":"K","grp":"Misc.","slot":10.86},{"cls":"L","grp":"Misc.","slot":11.79},{"cls":"E","grp":"Misc.","slot":12.72},{"cls":"M","grp":"Misc.","slot":13.62}
]
},
"hconcat":[
{
"width":903,"height":412,
"layer":[
{"data":{"name":"total"},"mark":{"type":"area","interpolate":"monotone","fill":"#d8d8d8","stroke":"#d8d8d8","strokeWidth":10,"opacity":0.6,"clip":true},
"encoding":{
"x":{"field":"a","type":"quantitative","scale":{"domain":[1.777,4.069],"nice":false,"zero":false},
"axis":{"values":[2,2.5,3,3.5,4],"format":".1f","ticks":false,"tickSize":0,"domainWidth":1.5,"labelFontSize":22,"labelPadding":12,"labelFlush":false,"labelOverlap":false,"title":"Semi-major axis (AU)","titleFontSize":25,"titleFontWeight":"normal","titlePadding":2,"titleX":496,"zindex":1}},
"y":{"field":"m","type":"quantitative","scale":{"domain":[14,21.357],"nice":false,"zero":false},
"axis":{"values":[16,18,20],"labelExpr":"'10'","ticks":false,"tickSize":0,"domainWidth":1.5,"labelFontSize":23,"labelPadding":32,"labelOffset":13,"labelFlush":false,"labelOverlap":false,"title":"Mass (kg / 0.02 AU)","titleFontSize":24,"titleFontWeight":"normal","titlePadding":4,"titleY":248,"zindex":1}},
"y2":{"datum":14},"detail":{"field":"seg"}}},
{"data":{"name":"total"},"mark":{"type":"area","interpolate":"monotone","fill":"#bebebe","clip":true},
"encoding":{"x":{"field":"a","type":"quantitative","scale":{"domain":[1.777,4.069],"nice":false,"zero":false}},"y":{"field":"m","type":"quantitative","scale":{"domain":[14,21.357],"nice":false,"zero":false}},"y2":{"datum":14},"detail":{"field":"seg"}}},
{"data":{"values":[{}]},"mark":{"type":"rule","color":"#b4b4b4","strokeDash":[9,6],"strokeWidth":1.5},
"encoding":{"x":{"datum":2.17,"scale":{"domain":[1.777,4.069],"nice":false,"zero":false}},"x2":{"datum":4.069},"y":{"datum":18,"scale":{"domain":[14,21.357],"nice":false,"zero":false}}}},
{"data":{"name":"xticks"},"transform":[{"filter":"datum.major"}],"mark":{"type":"rule","color":"#000","strokeWidth":1.5,"y2Offset":-29},
"encoding":{"x":{"field":"t","type":"quantitative","scale":{"domain":[1.777,4.069],"nice":false,"zero":false}},"y":{"datum":14,"scale":{"domain":[14,21.357],"nice":false,"zero":false}},"y2":{"datum":14}}},
{"data":{"name":"xticks"},"transform":[{"filter":"!datum.major"}],"mark":{"type":"rule","color":"#000","strokeWidth":1.5,"y2Offset":-15},
"encoding":{"x":{"field":"t","type":"quantitative","scale":{"domain":[1.777,4.069],"nice":false,"zero":false}},"y":{"datum":14,"scale":{"domain":[14,21.357],"nice":false,"zero":false}},"y2":{"datum":14}}},
{"data":{"name":"yticks"},"transform":[{"filter":"datum.major"}],"mark":{"type":"rule","color":"#000","strokeWidth":1.5,"x2Offset":16},
"encoding":{"y":{"field":"v","type":"quantitative","scale":{"domain":[14,21.357],"nice":false,"zero":false}},"x":{"datum":1.777,"scale":{"domain":[1.777,4.069],"nice":false,"zero":false}},"x2":{"datum":1.777}}},
{"data":{"name":"yticks"},"transform":[{"filter":"!datum.major"}],"mark":{"type":"rule","color":"#000","strokeWidth":1.5,"x2Offset":8},
"encoding":{"y":{"field":"v","type":"quantitative","scale":{"domain":[14,21.357],"nice":false,"zero":false}},"x":{"datum":1.777,"scale":{"domain":[1.777,4.069],"nice":false,"zero":false}},"x2":{"datum":1.777}}},
{"data":{"name":"res"},"transform":[{"filter":"datum.tier=='upper'"}],"mark":{"type":"rule","color":"#a3abf5","strokeDash":[10,7],"strokeWidth":1.8},
"encoding":{"x":{"field":"a","type":"quantitative","scale":{"domain":[1.777,4.069],"nice":false,"zero":false}},"y":{"datum":21.02,"scale":{"domain":[14,21.357],"nice":false,"zero":false}},"y2":{"datum":14}}},
{"data":{"name":"res"},"transform":[{"filter":"datum.tier=='lower'"}],"mark":{"type":"rule","color":"#a3abf5","strokeDash":[10,7],"strokeWidth":1.8},
"encoding":{"x":{"field":"a","type":"quantitative","scale":{"domain":[1.777,4.069],"nice":false,"zero":false}},"y":{"datum":20.125,"scale":{"domain":[14,21.357],"nice":false,"zero":false}},"y2":{"datum":14}}},
{"data":{"name":"res"},"transform":[{"filter":"datum.tier=='upper'"}],"mark":{"type":"text","color":"#a3abf5","fontSize":14,"fontWeight":"bold"},
"encoding":{"x":{"field":"a","type":"quantitative","scale":{"domain":[1.777,4.069],"nice":false,"zero":false}},"y":{"datum":21.18,"scale":{"domain":[14,21.357],"nice":false,"zero":false}},"text":{"field":"label"}}},
{"data":{"name":"res"},"transform":[{"filter":"datum.tier=='lower'"}],"mark":{"type":"text","color":"#a3abf5","fontSize":14,"fontWeight":"bold"},
"encoding":{"x":{"field":"a","type":"quantitative","scale":{"domain":[1.777,4.069],"nice":false,"zero":false}},"y":{"datum":20.43,"scale":{"domain":[14,21.357],"nice":false,"zero":false}},"text":{"field":"label"}}},
{"data":{"values":[{}]},"mark":{"type":"text","text":"Mean-motion resonances","angle":270,"color":"#a3abf5","fontSize":15},
"encoding":{"x":{"datum":2.036,"scale":{"domain":[1.777,4.069],"nice":false,"zero":false}},"y":{"datum":18.41,"scale":{"domain":[14,21.357],"nice":false,"zero":false}}}},
{"data":{"name":"stems"},"mark":{"type":"rule","strokeWidth":1.5},
"encoding":{"x":{"field":"a","type":"quantitative","scale":{"domain":[1.777,4.069],"nice":false,"zero":false}},"y":{"field":"top","type":"quantitative","scale":{"domain":[14,21.357],"nice":false,"zero":false}},"y2":{"datum":14},
"color":{"field":"cls","type":"nominal","legend":null,"scale":{"domain":["C","P","D","B","S","V","A","R","K","L","E","M"],"range":["#0000ff","#000000","#8a00e6","#1fa887","#ff0000","#b0300e","#ffcc33","#ff8c1a","#3535a5","#b6e52a","#ff3cff","#1b6b1b"]}},
"strokeDash":{"field":"cls","type":"nominal","legend":null,"scale":{"domain":["C","P","D","B","S","V","A","R","K","L","E","M"],"range":[[1,0],[4,3],[1,0],[1,0],[1,0],[1,0],[1,0],[4,3],[1,0],[1,0],[4,3],[4,3]]}}}},
{"data":{"name":"stems"},"mark":{"type":"point","filled":true,"size":22,"opacity":1},
"encoding":{"x":{"field":"a","type":"quantitative","scale":{"domain":[1.777,4.069],"nice":false,"zero":false}},"y":{"field":"top","type":"quantitative","scale":{"domain":[14,21.357],"nice":false,"zero":false}},
"color":{"field":"cls","type":"nominal","legend":null,"scale":{"domain":["C","P","D","B","S","V","A","R","K","L","E","M"],"range":["#0000ff","#000000","#8a00e6","#1fa887","#ff0000","#b0300e","#ffcc33","#ff8c1a","#3535a5","#b6e52a","#ff3cff","#1b6b1b"]}}}},
{"data":{"name":"curves"},"transform":[{"filter":{"field":"cls","oneOf":["K","L","D","B","V","E"]}}],"mark":{"type":"line","interpolate":"monotone","strokeWidth":1.5,"clip":true},
"encoding":{"x":{"field":"a","type":"quantitative","scale":{"domain":[1.777,4.069],"nice":false,"zero":false}},"y":{"field":"m","type":"quantitative","scale":{"domain":[14,21.357],"nice":false,"zero":false}},"detail":{"field":"seg"},
"color":{"field":"cls","type":"nominal","legend":null,"scale":{"domain":["C","P","D","B","S","V","A","R","K","L","E","M"],"range":["#0000ff","#000000","#8a00e6","#1fa887","#ff0000","#b0300e","#ffcc33","#ff8c1a","#3535a5","#b6e52a","#ff3cff","#1b6b1b"]}},
"strokeDash":{"field":"cls","type":"nominal","legend":null,"scale":{"domain":["C","P","D","B","S","V","A","R","K","L","E","M"],"range":[[1,0],[4,3],[1,0],[1,0],[1,0],[1,0],[1,0],[4,3],[1,0],[1,0],[4,3],[4,3]]}}}},
{"data":{"name":"curves"},"transform":[{"filter":{"field":"cls","oneOf":["P","M"]}}],"mark":{"type":"line","interpolate":"monotone","strokeWidth":1.8,"clip":true},
"encoding":{"x":{"field":"a","type":"quantitative","scale":{"domain":[1.777,4.069],"nice":false,"zero":false}},"y":{"field":"m","type":"quantitative","scale":{"domain":[14,21.357],"nice":false,"zero":false}},"detail":{"field":"seg"},
"color":{"field":"cls","type":"nominal","legend":null,"scale":{"domain":["C","P","D","B","S","V","A","R","K","L","E","M"],"range":["#0000ff","#000000","#8a00e6","#1fa887","#ff0000","#b0300e","#ffcc33","#ff8c1a","#3535a5","#b6e52a","#ff3cff","#1b6b1b"]}},
"strokeDash":{"field":"cls","type":"nominal","legend":null,"scale":{"domain":["C","P","D","B","S","V","A","R","K","L","E","M"],"range":[[1,0],[4,3],[1,0],[1,0],[1,0],[1,0],[1,0],[4,3],[1,0],[1,0],[4,3],[4,3]]}}}},
{"data":{"name":"curves"},"transform":[{"filter":{"field":"cls","oneOf":["S","C"]}}],"mark":{"type":"line","interpolate":"monotone","strokeWidth":3,"clip":true},
"encoding":{"x":{"field":"a","type":"quantitative","scale":{"domain":[1.777,4.069],"nice":false,"zero":false}},"y":{"field":"m","type":"quantitative","scale":{"domain":[14,21.357],"nice":false,"zero":false}},"detail":{"field":"seg"},
"color":{"field":"cls","type":"nominal","legend":null,"scale":{"domain":["C","P","D","B","S","V","A","R","K","L","E","M"],"range":["#0000ff","#000000","#8a00e6","#1fa887","#ff0000","#b0300e","#ffcc33","#ff8c1a","#3535a5","#b6e52a","#ff3cff","#1b6b1b"]}}}},
{"data":{"name":"named"},"transform":[{"filter":"datum.cls!='C'"}],"mark":{"type":"rule","strokeWidth":1.5},
"encoding":{"x":{"field":"a","type":"quantitative","scale":{"domain":[1.777,4.069],"nice":false,"zero":false}},"y":{"field":"base","type":"quantitative","scale":{"domain":[14,21.357],"nice":false,"zero":false}},"y2":{"field":"top"},
"color":{"field":"cls","type":"nominal","legend":null,"scale":{"domain":["C","P","D","B","S","V","A","R","K","L","E","M"],"range":["#0000ff","#000000","#8a00e6","#1fa887","#ff0000","#b0300e","#ffcc33","#ff8c1a","#3535a5","#b6e52a","#ff3cff","#1b6b1b"]}}}},
{"data":{"name":"named"},"transform":[{"filter":"datum.cls=='C'"}],"mark":{"type":"rule","strokeWidth":3},
"encoding":{"x":{"field":"a","type":"quantitative","scale":{"domain":[1.777,4.069],"nice":false,"zero":false}},"y":{"field":"base","type":"quantitative","scale":{"domain":[14,21.357],"nice":false,"zero":false}},"y2":{"field":"top"},
"color":{"field":"cls","type":"nominal","legend":null,"scale":{"domain":["C","P","D","B","S","V","A","R","K","L","E","M"],"range":["#0000ff","#000000","#8a00e6","#1fa887","#ff0000","#b0300e","#ffcc33","#ff8c1a","#3535a5","#b6e52a","#ff3cff","#1b6b1b"]}}}},
{"data":{"name":"named"},"mark":{"type":"point","filled":true,"size":50,"opacity":1},
"encoding":{"x":{"field":"a","type":"quantitative","scale":{"domain":[1.777,4.069],"nice":false,"zero":false}},"y":{"field":"top","type":"quantitative","scale":{"domain":[14,21.357],"nice":false,"zero":false}},
"color":{"field":"cls","type":"nominal","legend":null,"scale":{"domain":["C","P","D","B","S","V","A","R","K","L","E","M"],"range":["#0000ff","#000000","#8a00e6","#1fa887","#ff0000","#b0300e","#ffcc33","#ff8c1a","#3535a5","#b6e52a","#ff3cff","#1b6b1b"]}}}},
{"data":{"name":"named"},"transform":[{"filter":"datum.name=='Vesta'"}],"mark":{"type":"text","align":"right","dx":-10,"dy":7,"fontSize":14,"color":"#b0300e"},
"encoding":{"x":{"field":"a","type":"quantitative","scale":{"domain":[1.777,4.069],"nice":false,"zero":false}},"y":{"field":"top","type":"quantitative","scale":{"domain":[14,21.357],"nice":false,"zero":false}},"text":{"field":"name"}}},
{"data":{"name":"named"},"transform":[{"filter":"datum.name=='Ceres'"}],"mark":{"type":"text","align":"right","dx":-7,"dy":21,"fontSize":14,"color":"#0000ff"},
"encoding":{"x":{"field":"a","type":"quantitative","scale":{"domain":[1.777,4.069],"nice":false,"zero":false}},"y":{"field":"top","type":"quantitative","scale":{"domain":[14,21.357],"nice":false,"zero":false}},"text":{"field":"name"}}},
{"data":{"name":"named"},"transform":[{"filter":"datum.name=='Pallas'"}],"mark":{"type":"text","align":"left","dx":4,"dy":11,"fontSize":14,"color":"#1fa887"},
"encoding":{"x":{"field":"a","type":"quantitative","scale":{"domain":[1.777,4.069],"nice":false,"zero":false}},"y":{"field":"top","type":"quantitative","scale":{"domain":[14,21.357],"nice":false,"zero":false}},"text":{"field":"name"}}},
{"data":{"name":"named"},"transform":[{"filter":"datum.name=='Hygeia'"}],"mark":{"type":"text","align":"left","dx":11,"dy":0,"fontSize":14,"color":"#0000ff"},
"encoding":{"x":{"field":"a","type":"quantitative","scale":{"domain":[1.777,4.069],"nice":false,"zero":false}},"y":{"field":"top","type":"quantitative","scale":{"domain":[14,21.357],"nice":false,"zero":false}},"text":{"field":"name"}}},
{"data":{"name":"regions"},"transform":[{"filter":"datum.panel=='main'"}],"mark":{"type":"text","fontSize":18,"color":"#000"},
"encoding":{"x":{"field":"a","type":"quantitative","scale":{"domain":[1.777,4.069],"nice":false,"zero":false}},"y":{"datum":20.875,"scale":{"domain":[14,21.357],"nice":false,"zero":false}},"text":{"field":"name"}}},
{"data":{"values":[{"e":16},{"e":18},{"e":20}]},"mark":{"type":"text","align":"left","dx":-27,"dy":-6,"fontSize":16,"color":"#000"},
"encoding":{"x":{"datum":1.777,"scale":{"domain":[1.777,4.069],"nice":false,"zero":false}},"y":{"field":"e","type":"quantitative","scale":{"domain":[14,21.357],"nice":false,"zero":false}},"text":{"field":"e"}}},
{"data":{"values":[{}]},"mark":{"type":"point","shape":"M-1,-0.5L1,0L-1,0.5Z","filled":true,"color":"#000","size":196,"opacity":1},
"encoding":{"x":{"datum":4.051,"scale":{"domain":[1.777,4.069],"nice":false,"zero":false}},"y":{"datum":14,"scale":{"domain":[14,21.357],"nice":false,"zero":false}}}},
{"data":{"values":[{}]},"mark":{"type":"point","shape":"M-0.5,1L0,-1L0.5,1Z","filled":true,"color":"#000","size":196,"opacity":1},
"encoding":{"x":{"datum":1.777,"scale":{"domain":[1.777,4.069],"nice":false,"zero":false}},"y":{"datum":21.23,"scale":{"domain":[14,21.357],"nice":false,"zero":false}}}}
]
},
{
"width":161,"height":412,
"layer":[
{"data":{"name":"trojanTotal"},"mark":{"type":"area","interpolate":"monotone","fill":"#d8d8d8","stroke":"#d8d8d8","strokeWidth":10,"opacity":0.6,"clip":true},
"encoding":{
"x":{"field":"a","type":"quantitative","scale":{"domain":[4.997,5.406],"nice":false,"zero":false},
"axis":{"values":[5.2],"format":".1f","ticks":false,"tickSize":0,"domainWidth":1.5,"labelFontSize":22,"labelPadding":12,"labelFlush":false,"labelOverlap":false,"title":null,"zindex":1}},
"y":{"field":"m","type":"quantitative","scale":{"domain":[14,21.357],"nice":false,"zero":false},
"axis":{"values":[16],"labels":false,"ticks":false,"tickSize":0,"domainWidth":1.5,"title":null,"zindex":1}},
"y2":{"datum":14},"detail":{"field":"seg"}}},
{"data":{"name":"trojanTotal"},"mark":{"type":"area","interpolate":"monotone","fill":"#bebebe","clip":true},
"encoding":{"x":{"field":"a","type":"quantitative","scale":{"domain":[4.997,5.406],"nice":false,"zero":false}},"y":{"field":"m","type":"quantitative","scale":{"domain":[14,21.357],"nice":false,"zero":false}},"y2":{"datum":14},"detail":{"field":"seg"}}},
{"data":{"values":[{}]},"mark":{"type":"rule","color":"#b4b4b4","strokeDash":[9,6],"strokeWidth":1.5},
"encoding":{"x":{"datum":4.997,"scale":{"domain":[4.997,5.406],"nice":false,"zero":false}},"x2":{"datum":5.365},"y":{"datum":18,"scale":{"domain":[14,21.357],"nice":false,"zero":false}}}},
{"data":{"name":"tticks"},"transform":[{"filter":"datum.major"}],"mark":{"type":"rule","color":"#000","strokeWidth":1.5,"y2Offset":-29},
"encoding":{"x":{"field":"t","type":"quantitative","scale":{"domain":[4.997,5.406],"nice":false,"zero":false}},"y":{"datum":14,"scale":{"domain":[14,21.357],"nice":false,"zero":false}},"y2":{"datum":14}}},
{"data":{"name":"tticks"},"transform":[{"filter":"!datum.major"}],"mark":{"type":"rule","color":"#000","strokeWidth":1.5,"y2Offset":-15},
"encoding":{"x":{"field":"t","type":"quantitative","scale":{"domain":[4.997,5.406],"nice":false,"zero":false}},"y":{"datum":14,"scale":{"domain":[14,21.357],"nice":false,"zero":false}},"y2":{"datum":14}}},
{"data":{"name":"yticks"},"mark":{"type":"rule","color":"#000","strokeWidth":1.5,"x2Offset":15},
"encoding":{"y":{"field":"v","type":"quantitative","scale":{"domain":[14,21.357],"nice":false,"zero":false}},"x":{"datum":4.997,"scale":{"domain":[4.997,5.406],"nice":false,"zero":false}},"x2":{"datum":4.997}}},
{"data":{"name":"trojan"},"transform":[{"filter":"datum.cls=='D'"}],"mark":{"type":"line","interpolate":"monotone","strokeWidth":1.5,"clip":true,"color":"#8a00e6"},
"encoding":{"x":{"field":"a","type":"quantitative","scale":{"domain":[4.997,5.406],"nice":false,"zero":false}},"y":{"field":"m","type":"quantitative","scale":{"domain":[14,21.357],"nice":false,"zero":false}},"detail":{"field":"seg"}}},
{"data":{"name":"trojan"},"transform":[{"filter":"datum.cls=='P'"}],"mark":{"type":"line","interpolate":"monotone","strokeWidth":1.8,"strokeDash":[4,3],"clip":true,"color":"#000000"},
"encoding":{"x":{"field":"a","type":"quantitative","scale":{"domain":[4.997,5.406],"nice":false,"zero":false}},"y":{"field":"m","type":"quantitative","scale":{"domain":[14,21.357],"nice":false,"zero":false}},"detail":{"field":"seg"}}},
{"data":{"name":"trojan"},"transform":[{"filter":"datum.cls=='C'"}],"mark":{"type":"line","interpolate":"monotone","strokeWidth":3,"clip":true,"color":"#0000ff"},
"encoding":{"x":{"field":"a","type":"quantitative","scale":{"domain":[4.997,5.406],"nice":false,"zero":false}},"y":{"field":"m","type":"quantitative","scale":{"domain":[14,21.357],"nice":false,"zero":false}},"detail":{"field":"seg"}}},
{"data":{"name":"regions"},"transform":[{"filter":"datum.panel=='trojan'"}],"mark":{"type":"text","fontSize":18,"color":"#000"},
"encoding":{"x":{"field":"a","type":"quantitative","scale":{"domain":[4.997,5.406],"nice":false,"zero":false}},"y":{"datum":20.875,"scale":{"domain":[14,21.357],"nice":false,"zero":false}},"text":{"field":"name"}}},
{"data":{"values":[{}]},"mark":{"type":"point","shape":"M-1,-0.5L1,0L-1,0.5Z","filled":true,"color":"#000","size":196,"opacity":1},
"encoding":{"x":{"datum":5.388,"scale":{"domain":[4.997,5.406],"nice":false,"zero":false}},"y":{"datum":14,"scale":{"domain":[14,21.357],"nice":false,"zero":false}}}},
{"data":{"values":[{}]},"mark":{"type":"point","shape":"M-0.5,1L0,-1L0.5,1Z","filled":true,"color":"#000","size":196,"opacity":1},
"encoding":{"x":{"datum":4.997,"scale":{"domain":[4.997,5.406],"nice":false,"zero":false}},"y":{"datum":21.23,"scale":{"domain":[14,21.357],"nice":false,"zero":false}}}}
]
},
{
"width":125,"height":412,
"layer":[
{"data":{"name":"legend"},"transform":[{"aggregate":[{"op":"min","field":"slot","as":"lo"},{"op":"max","field":"slot","as":"hi"}],"groupby":["grp"]}],
"mark":{"type":"rule","strokeWidth":1.5,"yOffset":-15,"y2Offset":17},
"encoding":{"x":{"datum":41,"scale":{"domain":[0,125],"nice":false,"zero":false},"axis":null},"y":{"field":"lo","type":"quantitative","scale":{"domain":[0,14.2],"reverse":true,"nice":false,"zero":false},"axis":null},"y2":{"field":"hi"},
"stroke":{"field":"grp","type":"nominal","legend":null,"scale":{"domain":["Opaque-rich","Mafic-silicate rich","Misc."],"range":["#33bbff","#ff2a2a","#bbbbbb"]}}}},
{"data":{"name":"legend"},"transform":[{"aggregate":[{"op":"min","field":"slot","as":"lo"}],"groupby":["grp"]}],
"mark":{"type":"rule","strokeWidth":1.5,"yOffset":-15},
"encoding":{"x":{"datum":41,"scale":{"domain":[0,125],"nice":false,"zero":false},"axis":null},"x2":{"datum":62},"y":{"field":"lo","type":"quantitative","scale":{"domain":[0,14.2],"reverse":true,"nice":false,"zero":false},"axis":null},
"stroke":{"field":"grp","type":"nominal","legend":null,"scale":{"domain":["Opaque-rich","Mafic-silicate rich","Misc."],"range":["#33bbff","#ff2a2a","#bbbbbb"]}}}},
{"data":{"name":"legend"},"transform":[{"aggregate":[{"op":"max","field":"slot","as":"hi"}],"groupby":["grp"]}],
"mark":{"type":"rule","strokeWidth":1.5,"yOffset":17},
"encoding":{"x":{"datum":41,"scale":{"domain":[0,125],"nice":false,"zero":false},"axis":null},"x2":{"datum":62},"y":{"field":"hi","type":"quantitative","scale":{"domain":[0,14.2],"reverse":true,"nice":false,"zero":false},"axis":null},
"stroke":{"field":"grp","type":"nominal","legend":null,"scale":{"domain":["Opaque-rich","Mafic-silicate rich","Misc."],"range":["#33bbff","#ff2a2a","#bbbbbb"]}}}},
{"data":{"name":"legend"},"transform":[{"aggregate":[{"op":"mean","field":"slot","as":"mid"}],"groupby":["grp"]}],
"mark":{"type":"text","angle":270,"fontSize":18},
"encoding":{"x":{"datum":20,"scale":{"domain":[0,125],"nice":false,"zero":false},"axis":null},"y":{"field":"mid","type":"quantitative","scale":{"domain":[0,14.2],"reverse":true,"nice":false,"zero":false},"axis":null},"text":{"field":"grp"},
"fill":{"field":"grp","type":"nominal","legend":null,"scale":{"domain":["Opaque-rich","Mafic-silicate rich","Misc."],"range":["#33bbff","#ff2a2a","#bbbbbb"]}}}},
{"data":{"name":"legend"},"mark":{"type":"text","fontSize":17},
"encoding":{"x":{"datum":69,"scale":{"domain":[0,125],"nice":false,"zero":false},"axis":null},"y":{"field":"slot","type":"quantitative","scale":{"domain":[0,14.2],"reverse":true,"nice":false,"zero":false},"axis":null},"text":{"field":"cls"},
"color":{"field":"cls","type":"nominal","legend":null,"scale":{"domain":["C","P","D","B","S","V","A","R","K","L","E","M"],"range":["#0000ff","#000000","#8a00e6","#1fa887","#ff0000","#b0300e","#ffcc33","#ff8c1a","#3535a5","#b6e52a","#ff3cff","#1b6b1b"]}}}},
{"data":{"name":"legend"},"transform":[{"filter":{"field":"cls","oneOf":["P","D","B","V","A","R","K","L","E","M"]}}],"mark":{"type":"rule","strokeWidth":1.6},
"encoding":{"x":{"datum":87,"scale":{"domain":[0,125],"nice":false,"zero":false},"axis":null},"x2":{"datum":122},"y":{"field":"slot","type":"quantitative","scale":{"domain":[0,14.2],"reverse":true,"nice":false,"zero":false},"axis":null},
"color":{"field":"cls","type":"nominal","legend":null,"scale":{"domain":["C","P","D","B","S","V","A","R","K","L","E","M"],"range":["#0000ff","#000000","#8a00e6","#1fa887","#ff0000","#b0300e","#ffcc33","#ff8c1a","#3535a5","#b6e52a","#ff3cff","#1b6b1b"]}},
"strokeDash":{"field":"cls","type":"nominal","legend":null,"scale":{"domain":["C","P","D","B","S","V","A","R","K","L","E","M"],"range":[[1,0],[4,3],[1,0],[1,0],[1,0],[1,0],[1,0],[4,3],[1,0],[1,0],[4,3],[4,3]]}}}},
{"data":{"name":"legend"},"transform":[{"filter":{"field":"cls","oneOf":["C","S"]}}],"mark":{"type":"rule","strokeWidth":3},
"encoding":{"x":{"datum":87,"scale":{"domain":[0,125],"nice":false,"zero":false},"axis":null},"x2":{"datum":122},"y":{"field":"slot","type":"quantitative","scale":{"domain":[0,14.2],"reverse":true,"nice":false,"zero":false},"axis":null},
"color":{"field":"cls","type":"nominal","legend":null,"scale":{"domain":["C","P","D","B","S","V","A","R","K","L","E","M"],"range":["#0000ff","#000000","#8a00e6","#1fa887","#ff0000","#b0300e","#ffcc33","#ff8c1a","#3535a5","#b6e52a","#ff3cff","#1b6b1b"]}}}},
{"data":{"name":"legend"},"transform":[{"filter":{"field":"cls","oneOf":["V","A","R","E"]}}],"mark":{"type":"point","filled":true,"size":16,"opacity":1},
"encoding":{"x":{"datum":88,"scale":{"domain":[0,125],"nice":false,"zero":false},"axis":null},"y":{"field":"slot","type":"quantitative","scale":{"domain":[0,14.2],"reverse":true,"nice":false,"zero":false},"axis":null},
"color":{"field":"cls","type":"nominal","legend":null,"scale":{"domain":["C","P","D","B","S","V","A","R","K","L","E","M"],"range":["#0000ff","#000000","#8a00e6","#1fa887","#ff0000","#b0300e","#ffcc33","#ff8c1a","#3535a5","#b6e52a","#ff3cff","#1b6b1b"]}}}},
{"data":{"values":[{}]},"mark":{"type":"rect","fill":"#bebebe","stroke":"#d4d4d4","strokeWidth":3},
"encoding":{"x":{"datum":7,"scale":{"domain":[0,125],"nice":false,"zero":false},"axis":null},"x2":{"datum":29},"y":{"datum":14.31,"scale":{"domain":[0,14.2],"reverse":true,"nice":false,"zero":false},"axis":null},"y2":{"datum":15.69}}},
{"data":{"values":[{}]},"mark":{"type":"text","text":"Total","align":"left","fontSize":17,"color":"#000"},
"encoding":{"x":{"datum":44,"scale":{"domain":[0,125],"nice":false,"zero":false},"axis":null},"y":{"datum":14.97,"scale":{"domain":[0,14.2],"reverse":true,"nice":false,"zero":false},"axis":null}}},
{"data":{"values":[{}]},"mark":{"type":"text","text":"mass","align":"left","fontSize":17,"color":"#000"},
"encoding":{"x":{"datum":44,"scale":{"domain":[0,125],"nice":false,"zero":false},"axis":null},"y":{"datum":15.76,"scale":{"domain":[0,14.2],"reverse":true,"nice":false,"zero":false},"axis":null}}}
]
}
]
}
